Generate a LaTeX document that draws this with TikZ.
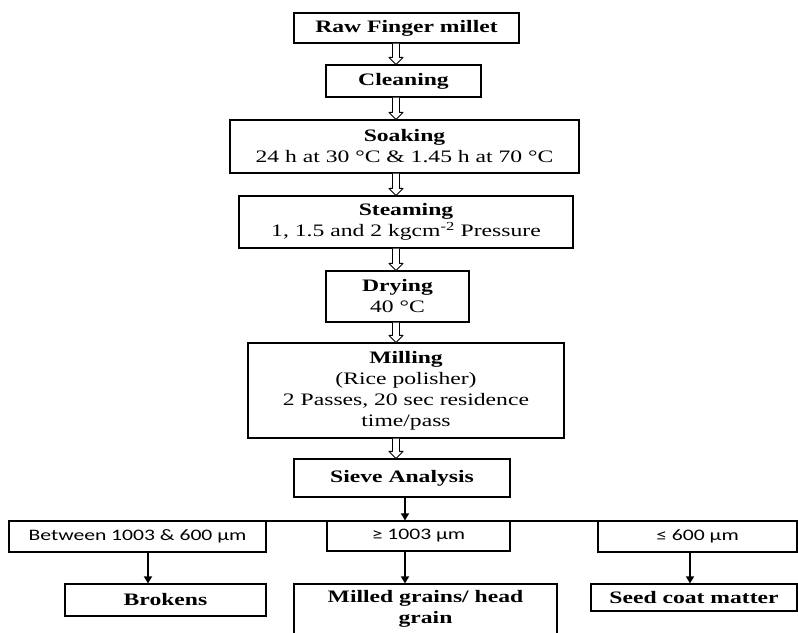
\documentclass[tikz,border=0pt]{standalone}
\usepackage{fontspec}
\setmainfont{Liberation Serif}[FakeStretch=1.35]
\newfontfamily\sizefont{Carlito}[FakeStretch=1.35]
\usetikzlibrary{arrows.meta,calc}

\begin{document}
\begin{tikzpicture}[x=1pt, y=-1pt,
		box_style/.style={rectangle,draw=black,line width=1.2pt,inner sep=0pt,align=center,font=\fontsize{17.5}{21}\selectfont},
		size_style/.style={box_style,font=\sizefont\fontsize{16}{19}\selectfont},
		step_edge/.style={draw=black,fill=white,line width=0.9pt,line join=round,
			to path={let \p1=(\tikztostart), \p2=(\tikztotarget) in
				(\x1-3.5pt,\y1) -- (\x1-3.5pt,\y2+7pt) -- (\x1-7pt,\y2+7pt) -- (\x2,\y2)
				-- (\x1+7pt,\y2+7pt) -- (\x1+3.5pt,\y2+7pt) -- (\x1+3.5pt,\y1)}},
		edge_style/.style={draw=black,line width=1.5pt,-{Triangle[width=8pt,length=7pt]}}]

		\useasboundingbox (0,0) rectangle (798,632);

		\node[box_style,minimum width=225pt,minimum height=30pt] (raw) at (406.5,28)  {\textbf{Raw Finger millet}};
		\node[box_style,minimum width=155pt,minimum height=32pt] (clean) at (403.5,81)  {\textbf{Cleaning}};
		\node[box_style,minimum width=349pt,minimum height=53pt] (soak) at (404.5,146.5)  {\textbf{Soaking}\\24 h at 30 °C \& 1.45 h at 70 °C};
		\node[box_style,minimum width=334pt,minimum height=52pt] (steam) at (406,222)  {\textbf{Steaming}\\1, 1.5 and 2 kgcm\textsuperscript{-2} Pressure};
		\node[box_style,minimum width=143pt,minimum height=51pt] (dry) at (397.5,296.5)  {\textbf{Drying}\\40 °C};
		\node[box_style,minimum width=316pt,minimum height=95pt] (mill) at (406,390.5)  {\textbf{Milling}\\(Rice polisher)\\2 Passes, 20 sec residence\\time/pass};
		\node[box_style,minimum width=216pt,minimum height=38pt] (sieve) at (402,478)  {\textbf{Sieve Analysis}};
		\node[size_style,minimum width=257pt,minimum height=31pt] (between) at (137.5,536.5)  {Between 1003 \& 600 µm};
		\node[size_style,minimum width=183pt,minimum height=30pt] (coarse) at (418.5,536)  {≥ 1003 µm};
		\node[size_style,minimum width=199pt,minimum height=31pt] (fine) at (697.5,536.5)  {≤ 600 µm};
		\node[box_style,minimum width=201pt,minimum height=32pt] (brokens) at (165.5,600)  {\textbf{Brokens}};
		\node[box_style,minimum width=263pt,minimum height=50pt] (milled) at (425.5,609)  {\textbf{Milled grains/ head}\\\textbf{grain}};
		\node[box_style,minimum width=206pt,minimum height=27pt] (seed) at (694,597.5)  {\textbf{Seed coat matter}};

		\coordinate (axis) at (396,0);
		\coordinate (c1) at (148,0);
		\coordinate (c2) at (405,0);
		\coordinate (c3) at (690,0);
		\coordinate (split_l) at (147,521);
		\coordinate (split_r) at (737,521);

		\draw[step_edge]  (raw.south -| axis) to (clean.north -| axis);
		\draw[step_edge]  (clean.south -| axis) to (soak.north -| axis);
		\draw[step_edge]  (soak.south -| axis) to (steam.north -| axis);
		\draw[step_edge]  (steam.south -| axis) to (dry.north -| axis);
		\draw[step_edge]  (dry.south -| axis) to (mill.north -| axis);
		\draw[step_edge]  (mill.south -| axis) to (sieve.north -| axis);

		\draw[line width=1.2pt]  (split_l) -- (split_r);
		\draw[edge_style]  (sieve.south -| c2) -- (coarse.north -| c2);
		\draw[edge_style]  (between.south -| c1) -- (brokens.north -| c1);
		\draw[edge_style]  (coarse.south -| c2) -- (milled.north -| c2);
		\draw[edge_style]  (fine.south -| c3) -- (seed.north -| c3);
\end{tikzpicture}
\end{document}
